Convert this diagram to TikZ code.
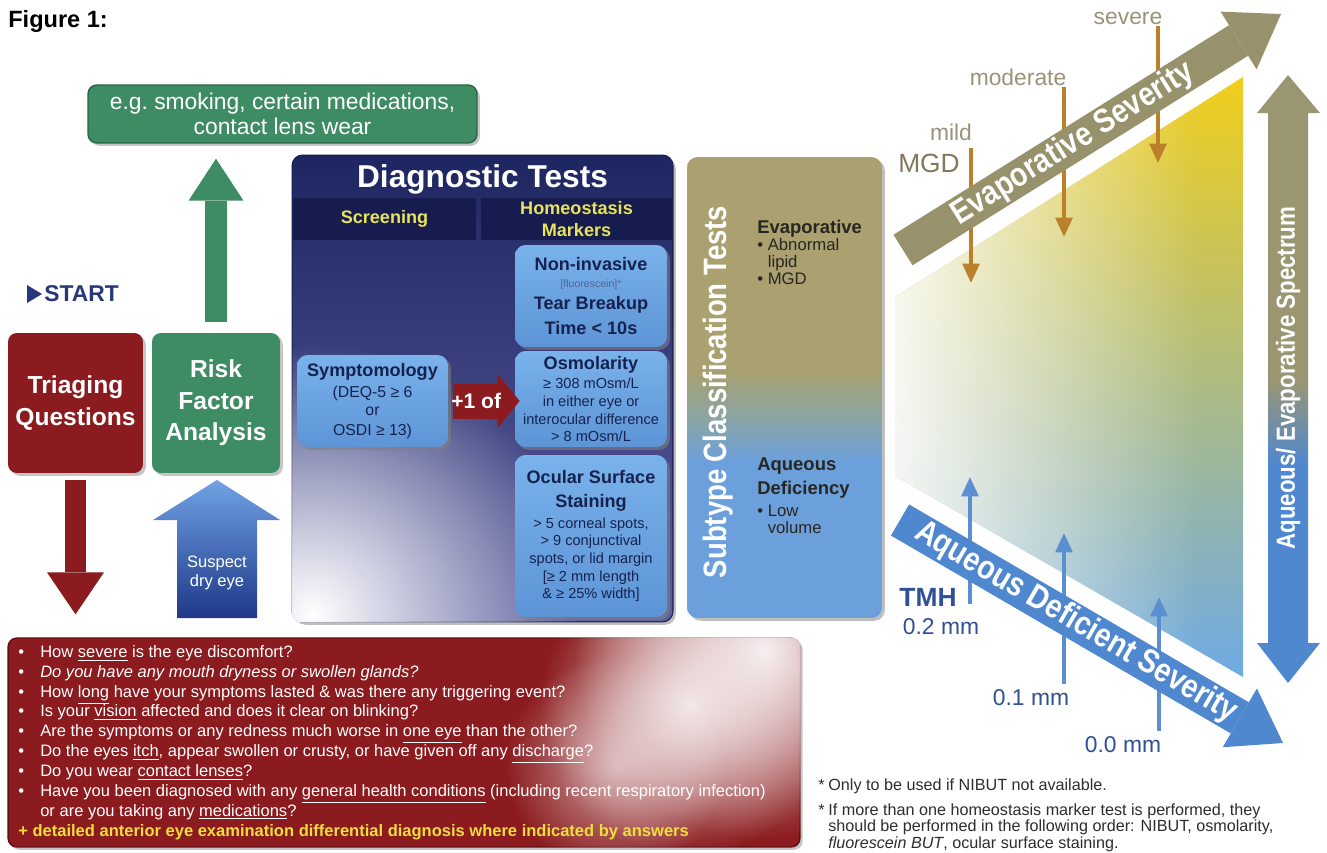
\documentclass[tikz,border=0pt]{standalone}
\usepackage{fontspec}
\setmainfont{Liberation Sans}
\newfontfamily\condfont[FakeStretch=0.85]{Liberation Sans}
\usetikzlibrary{arrows.meta,shadows,fadings}

\definecolor{trired}{RGB}{139,27,30}
\definecolor{qedge}{RGB}{100,15,18}
\definecolor{qyellow}{RGB}{240,222,60}
\definecolor{riskgreen}{RGB}{62,140,100}
\definecolor{greenedge}{RGB}{40,100,68}
\definecolor{dtnavy}{RGB}{30,38,98}
\definecolor{dtband}{RGB}{22,28,78}
\definecolor{dtlow}{RGB}{92,96,158}
\definecolor{hmblue}{RGB}{122,178,236}
\definecolor{hmbluedark}{RGB}{92,148,214}
\definecolor{hmtext}{RGB}{22,34,78}
\definecolor{hmsmall}{RGB}{80,100,150}
\definecolor{hdyellow}{RGB}{232,226,92}
\definecolor{startblue}{RGB}{40,55,120}
\definecolor{subkhaki}{RGB}{170,160,112}
\definecolor{submid}{RGB}{140,165,160}
\definecolor{subblue}{RGB}{108,160,220}
\definecolor{subtext}{RGB}{40,38,32}
\definecolor{evapkhaki}{RGB}{152,146,108}
\definecolor{spkhaki}{RGB}{155,150,114}
\definecolor{aqblue}{RGB}{80,136,208}
\definecolor{sevbrown}{RGB}{186,128,42}
\definecolor{sevgrey}{RGB}{152,148,122}
\definecolor{mgdkhaki}{RGB}{128,122,92}
\definecolor{tmhblue}{RGB}{92,142,210}
\definecolor{tmhtext}{RGB}{48,80,150}
\definecolor{triyellow}{RGB}{240,206,28}
\definecolor{trimid}{RGB}{196,202,120}
\definecolor{triblue}{RGB}{110,170,228}
\definecolor{susblue}{RGB}{30,56,136}
\definecolor{susblue2}{RGB}{112,162,228}
\definecolor{foottext}{RGB}{45,45,45}

\tikzfading[name=glow, inner color=transparent!0, outer color=transparent!100]
\tikzfading[name=fromleft, left color=transparent!0, right color=transparent!100]

\pgfdeclareverticalshading{subshade}{100bp}{color(0bp)=(subblue); color(42bp)=(subblue); color(47bp)=(submid); color(52bp)=(subkhaki); color(100bp)=(subkhaki)}
\pgfdeclareverticalshading{specshade}{100bp}{color(0bp)=(aqblue); color(43bp)=(aqblue); color(50bp)=(spkhaki); color(100bp)=(spkhaki)}

\newcommand{\qitem}{\makebox[12.5pt][l]{\textbullet}}
\newcommand{\hmh}[1]{{\bfseries\fontsize{10.3}{12.5}\selectfont #1}}

\tikzset{
  colorbox/.style={rounded corners=5pt, inner sep=2pt, align=center, text=white,
    drop shadow={opacity=0.45, shadow xshift=1.6pt, shadow yshift=-1.6pt}},
  headbox/.style={colorbox, minimum height=2.8cm,
    font=\bfseries\fontsize{14}{18.5}\selectfont},
  panel/.style={rounded corners=6pt, inner sep=0pt,
    drop shadow={opacity=0.5, shadow xshift=1.6pt, shadow yshift=-1.6pt}},
  hmbox/.style={rounded corners=6pt, top color=hmblue, bottom color=hmbluedark,
    text=hmtext, align=center, inner sep=1pt, minimum width=3.04cm,
    font=\fontsize{8.3}{10}\selectfont,
    drop shadow={opacity=0.6, shadow xshift=1.6pt, shadow yshift=-1.6pt}},
  band/.style={fill=dtband, inner sep=0pt, text=hdyellow, align=center,
    minimum height=0.84cm, font=\bfseries\fontsize{10.3}{12.5}\selectfont},
  bandtext/.style={text=white, inner sep=0pt, font=\condfont\bfseries\fontsize{19}{19}\selectfont},
  evaptick/.style={draw=sevbrown, line width=2pt, -{Triangle[length=11pt,width=9.5pt]}},
  tmhtick/.style={draw=tmhblue, line width=2pt, shorten <=0.08cm, -{Triangle[length=11pt,width=9.5pt]}},
  sevlabel/.style={text=sevgrey, inner sep=1pt, font=\fontsize{13}{13}\selectfont},
  tmhlabel/.style={text=tmhtext, inner sep=1pt, font=\fontsize{13}{13}\selectfont}
}

\begin{document}
\begin{tikzpicture}[x=0.02cm, y=-0.02cm]
  \useasboundingbox (0,0) rectangle (1327,852);
  \fill[white] (0,0) rectangle (1327,852);

  % Figure label
  \node[anchor=west, inner sep=0pt, font=\bfseries\fontsize{13.4}{14}\selectfont] (figlbl) at (8,21) {Figure 1:};

  % Risk factor examples
  \node[colorbox, fill=riskgreen, draw=greenedge, line width=0.8pt, minimum width=7.78cm, minimum height=1.16cm,
    font=\fontsize{13}{14.2}\selectfont] (riskeg) at (282.5,114) {e.g.\ smoking, certain medications,\\contact lens wear};

  % START
  \fill[startblue] (27,285) -- (42,294) -- (27,303) -- cycle;
  \node[anchor=west, inner sep=0pt, text=startblue, font=\bfseries\fontsize{13}{13}\selectfont] (start) at (44,294) {START};

  % Triaging and risk factor boxes
  \node[headbox, fill=trired, minimum width=2.7cm] (triage) at (75.5,403) {Triaging\\Questions};
  \node[headbox, fill=riskgreen, minimum width=2.56cm, font=\bfseries\fontsize{14}{17.9}\selectfont] (risk) at (216,403) {Risk\\Factor\\Analysis};

  % Triaging questions box
  \node[colorbox, fill=trired, draw=qedge, line width=0.8pt, minimum width=15.84cm, minimum height=4.18cm] (qbox) at (404,742.5) {};
  \begin{scope}
    \clip[rounded corners=5pt] (qbox.north west) rectangle (qbox.south east);
    \fill[white, path fading=glow, fill opacity=0.9] (765,650) circle (190);
    \fill[white, path fading=glow, fill opacity=0.8] (690,705) circle (150);
    \fill[white, path fading=glow, fill opacity=0.6] (615,765) circle (110);
  \end{scope}
  \node[anchor=north west, inner sep=0pt, align=left, text=white, font=\fontsize{9.4}{11.3}\selectfont] (qlist) at (18,645) {%
    \qitem How \underline{severe} is the eye discomfort?\\
    \qitem \textit{Do you have any mouth dryness or swollen glands?}\\
    \qitem How \underline{long} have your symptoms lasted \& was there any triggering event?\\
    \qitem Is your \underline{vision} affected and does it clear on blinking?\\
    \qitem Are the symptoms or any redness much worse in \underline{one eye} than the other?\\
    \qitem Do the eyes \underline{itch}, appear swollen or crusty, or have given off any \underline{discharge}?\\
    \qitem Do you wear \underline{contact lenses}?\\
    \qitem Have you been diagnosed with any \underline{general health conditions} (including recent respiratory infection)\\
    \hspace*{12.5pt}or are you taking any \underline{medications}?\\
    \textcolor{qyellow}{\bfseries + detailed anterior eye examination differential diagnosis where indicated by answers}};

  % Block arrows on the left
  \draw[riskgreen, line width=0.44cm, shorten <=0.22cm, shorten >=0.3cm,
    -{Triangle[length=0.84cm,width=1.1cm,line width=0pt]}] (risk.north) -- (risk.north |- riskeg.south);
  \draw[trired, line width=0.44cm, shorten <=0.14cm, shorten >=0.46cm,
    -{Triangle[length=0.84cm,width=1.14cm,line width=0pt]}] (triage.south) -- (triage.south |- qbox.north);
  \shade[top color=susblue2, bottom color=susblue] (177,618) -- (177,520) -- (153,520) -- (217,480) -- (280,520) -- (257,520) -- (257,618) -- cycle;
  \node[align=center, text=white, font=\fontsize{9.4}{11.3}\selectfont] (suspect) at (217,573) {Suspect\\dry eye};

  % Diagnostic tests panel
  \node[panel, top color=dtnavy, bottom color=dtlow, draw=dtband, line width=0.6pt, minimum width=7.62cm, minimum height=9.34cm] (diag) at (482.5,388.5) {};
  \begin{scope}
    \clip[rounded corners=6pt] (diag.north west) rectangle (diag.south east);
    \fill[white, path fading=glow] (312,615) circle (270);
  \end{scope}
  \node[text=white, font=\bfseries\fontsize{18}{18}\selectfont] (dtitle) at (482.5,179) {Diagnostic Tests};
  \node[band, minimum width=3.66cm] (screen) at (384.5,219) {Screening};
  \node[band, minimum width=3.82cm] (homeo) at (576.5,219) {Homeostasis\\Markers};

  \node[hmbox, minimum height=2.04cm] (nibut) at (591,296) {\hmh{Non-invasive}\\[-0.5pt]{\fontsize{6}{7}\selectfont\color{hmsmall}[fluorescein]*}\\[3pt]\hmh{Tear Breakup}\\[4pt]\hmh{Time < 10s}};
  \node[hmbox, minimum height=1.92cm] (osmo) at (591,399) {\hmh{Osmolarity}\\[1.2pt]≥ 308 mOsm/L\\in either eye or\\interocular difference\\> 8 mOsm/L};
  \node[hmbox, minimum height=3.24cm] (stain) at (591,536) {\hmh{Ocular Surface}\\[3.6pt]\hmh{Staining}\\[1.9pt]> 5 corneal spots,\\> 9 conjunctival\\spots, or lid margin\\{[}≥ 2 mm length\\\& ≥ 25\% width{]}};
  \node[hmbox, minimum width=3.02cm, minimum height=1.84cm, font=\fontsize{9}{10.8}\selectfont] (sympt) at (372.5,401) {\hmh{Symptomology}\\[1.5pt](DEQ-5 ≥ 6\\[-0.6pt]or\\[0.5pt]OSDI ≥ 13)};
  \draw[trired, line width=0.7cm, shorten <=0.1cm, shorten >=-0.1cm,
    -{Triangle[length=0.44cm,width=1.08cm,line width=0pt]}] (sympt.east) -- (sympt.east -| osmo.west)
    node[pos=0.42, text=white, font=\bfseries\fontsize{12}{12}\selectfont] (plusone) {+1 of};

  % Subtype classification panel
  \node[panel, shade, shading=subshade, minimum width=3.9cm, minimum height=9.22cm] (subtype) at (784.5,387.5) {};
  \node[rotate=90, text=white, inner sep=0pt, font=\condfont\bfseries\fontsize{18.4}{18.4}\selectfont] (subtitle) at (718,392) {Subtype Classification Tests};
  \node[anchor=north west, inner sep=0pt, align=left, text=subtext, font=\fontsize{9.5}{9.6}\selectfont] (evapsub) at (757,220)
    {{\bfseries\fontsize{10.5}{9.6}\selectfont Evaporative}\\\textbullet\ Abnormal\\\phantom{\textbullet\ }lipid\\\textbullet\ MGD};
  \node[anchor=north west, inner sep=0pt, align=left, text=subtext, font=\fontsize{9.5}{9.6}\selectfont] (aqsub) at (757,457)
    {{\bfseries\fontsize{10.5}{9.6}\selectfont Aqueous}\\[2.9pt]{\bfseries\fontsize{10.5}{9.6}\selectfont Deficiency}\\[3.4pt]\textbullet\ Low\\\phantom{\textbullet\ }volume};

  % Severity triangle
  \begin{scope}
    \clip (895,297) -- (1243,77) -- (1243,677) -- (895,476) -- cycle;
    \shade[top color=triyellow, middle color=trimid, bottom color=triblue] (880,77) rectangle (1243,677);
    \fill[white, path fading=fromleft] (860,60) rectangle (1200,700);
  \end{scope}

  % MGD grades
  \node[sevlabel] (sevlbl) at (1128,18) {severe};
  \node[sevlabel] (modlbl) at (1018,77) {moderate};
  \node[sevlabel] (mildlbl) at (951,132) {mild};
  \node[sevlabel, text=mgdkhaki, font=\fontsize{15}{15}\selectfont] (mgdlbl) at (929,163) {MGD};
  \coordinate (sevtip) at (1158,163);
  \coordinate (modtip) at (1064,237);
  \coordinate (mildtip) at (971,283);
  \draw[evaptick] (sevtip |- sevlbl.south) -- (sevtip);
  \draw[evaptick] (modtip |- modlbl.south) -- (modtip);
  \draw[evaptick, shorten <=0.12cm] (mildtip |- mildlbl.south) -- (mildtip);

  % TMH grades
  \node[tmhlabel, font=\bfseries\fontsize{15}{15}\selectfont] (tmhlbl) at (928,597) {TMH};
  \node[tmhlabel] (lbl02) at (941,627) {0.2 mm};
  \node[tmhlabel] (lbl01) at (1031,698) {0.1 mm};
  \node[tmhlabel] (lbl00) at (1123,745) {0.0 mm};
  \coordinate (tip02) at (970,477);
  \coordinate (tip01) at (1064,533);
  \coordinate (tip00) at (1159,597);
  \draw[tmhtick] (tip02 |- tmhlbl.south) -- (tip02);
  \draw[tmhtick] (tip01 |- lbl01.north) -- (tip01);
  \draw[tmhtick] (tip00 |- lbl00.north) -- (tip00);

  % Severity arrows
  \coordinate (evtail) at (903,250);
  \coordinate (evtip) at (1281,14);
  \draw[evapkhaki, line width=0.72cm, -{Triangle[length=1.0cm,width=1.36cm,line width=0pt]}] (evtail) -- (evtip)
    node[pos=0.45, sloped, bandtext] (evaplbl) {Evaporative Severity};
  \coordinate (aqtail) at (900,520);
  \coordinate (aqtip) at (1283,743);
  \draw[aqblue, line width=0.72cm, -{Triangle[length=1.0cm,width=1.36cm,line width=0pt]}] (aqtail) -- (aqtip)
    node[pos=0.46, sloped, bandtext] (aqlbl) {Aqueous Deficient Severity};

  % Spectrum arrow
  \shade[shading=specshade] (1268,643) -- (1268,113) -- (1257,113) -- (1288,75) -- (1320,113) -- (1308,113)
    -- (1308,643) -- (1320,643) -- (1288,683) -- (1257,643) -- cycle;
  \node[rotate=90, bandtext, font=\condfont\bfseries\fontsize{14.9}{15}\selectfont] (speclbl) at (1288,378) {Aqueous/ Evaporative Spectrum};

  % Footnotes
  \node[anchor=north west, inner sep=0pt, align=left, text=foottext, font=\fontsize{9.2}{9.4}\selectfont] (foot) at (818,778)
    {\makebox[5.7pt][l]{*}Only to be used if NIBUT not available.\\[4.8pt]
     \makebox[5.7pt][l]{*}If more than one homeostasis marker test is performed, they\\
     \hspace*{5.7pt}should be performed in the following order: NIBUT, osmolarity,\\
     \hspace*{5.7pt}\textit{fluorescein BUT}, ocular surface staining.};
\end{tikzpicture}
\end{document}
